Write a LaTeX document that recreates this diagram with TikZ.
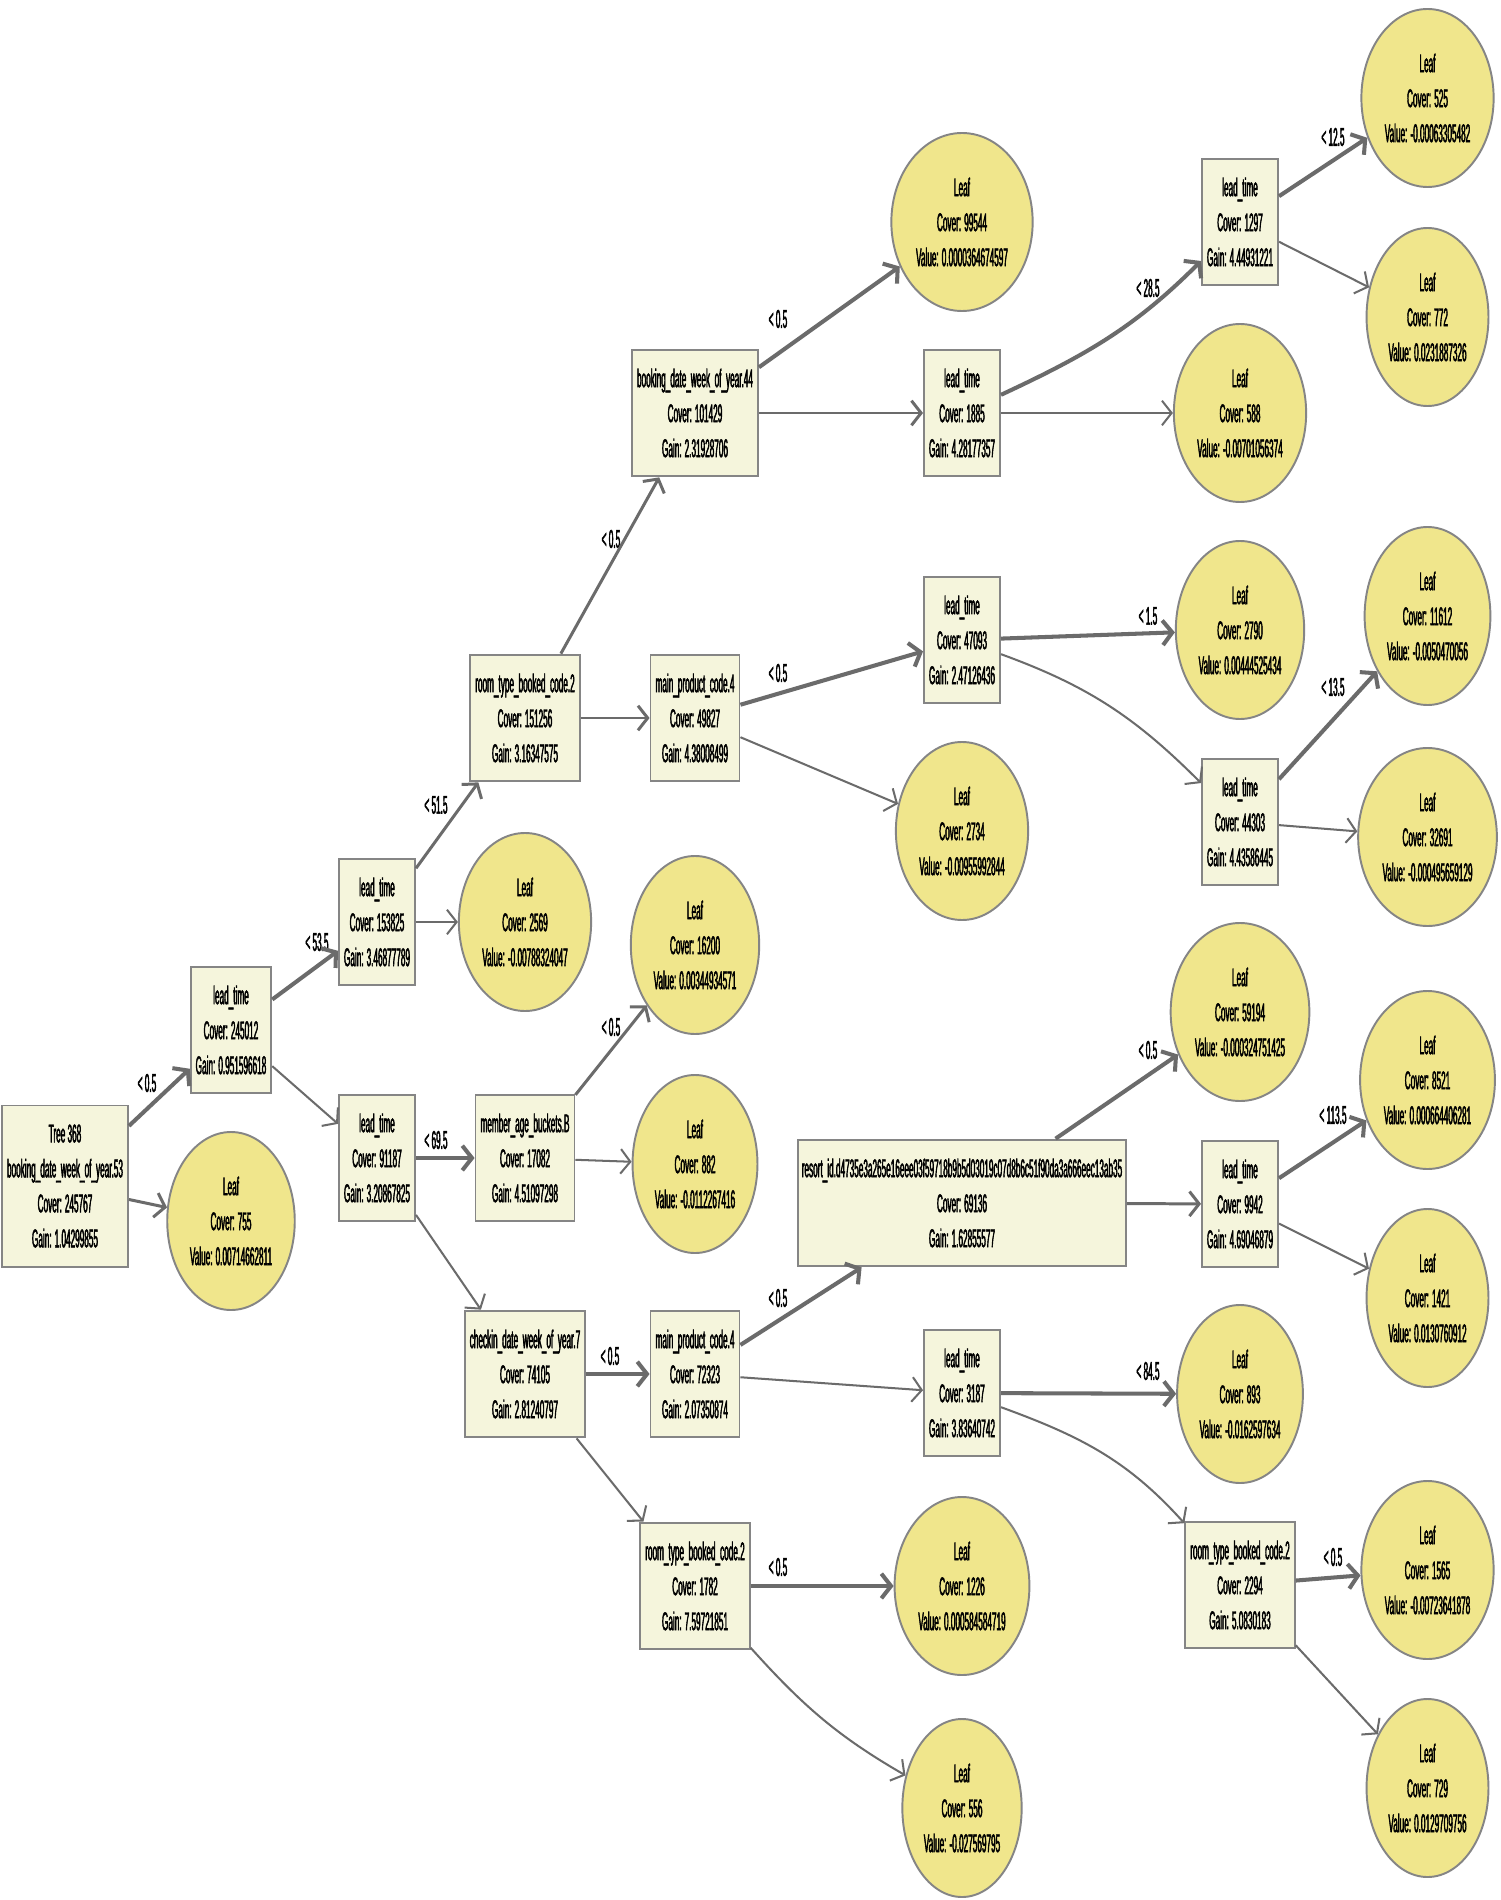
\documentclass[tikz,border=0pt]{standalone}
\usepackage{fontspec}
\setmainfont{Liberation Sans}[FakeStretch=0.32, FakeBold=1.6]
\usepackage{tikz}
\usetikzlibrary{arrows.meta,shapes.geometric}

\newcommand{\treefont}{\fontsize{14.6pt}{19.9pt}\selectfont}
\definecolor{splitfill}{HTML}{F5F5DC}
\definecolor{leaffill}{HTML}{F0E68C}
\definecolor{edgegray}{HTML}{6B6B6B}
\definecolor{bordergray}{HTML}{858585}

\begin{document}
\begin{tikzpicture}[every node/.style={font=\treefont, align=center},
		splitbox/.style={rectangle, fill=splitfill, draw=bordergray, line width=1.1pt, inner xsep=0.1cm, inner ysep=0.38cm},
		leafnode/.style={ellipse, fill=leaffill, draw=bordergray, line width=1.1pt, inner sep=0.08cm, minimum height=3.56cm},
		yesline/.style={draw=edgegray, line width=2.3pt, -{Straight Barb[length=5.5pt, width=14pt]}},
		midline/.style={draw=edgegray, line width=1.7pt, -{Straight Barb[length=5.5pt, width=14pt]}},
		noline/.style={draw=edgegray, line width=1.15pt, -{Straight Barb[length=5.5pt, width=14pt]}},
		cond/.style={inner sep=0pt}]
		\fill[white] (0, 0) rectangle (30, -38);
		\useasboundingbox (0, 0) rectangle (30, -38);
		
		\node[splitbox] (a) at (1.3, -23.72) {Tree 368\\booking\_date\_week\_of\_year.53\\Cover: 245767\\Gain: 1.04299855};
		
		\node[leafnode] (b) at (4.62, -24.42) {Leaf\\Cover: 755\\Value: 0.00714662811};
		\node[splitbox] (c) at (4.62, -20.6) {lead\_time\\Cover: 245012\\Gain: 0.951596618};
		
		\node[splitbox] (d) at (7.54, -18.44) {lead\_time\\Cover: 153825\\Gain: 3.46877789};
		\node[splitbox] (e) at (7.54, -23.16) {lead\_time\\Cover: 91187\\Gain: 3.20867825};
		
		\node[splitbox] (f) at (10.5, -14.36) {room\_type\_booked\_code.2\\Cover: 151256\\Gain: 3.16347575};
		\node[leafnode] (g) at (10.5, -18.44) {Leaf\\Cover: 2569\\Value: -0.00788324047};
		\node[splitbox] (h) at (10.5, -23.16) {member\_age\_buckets.B\\Cover: 17082\\Gain: 4.51097298};
		\node[splitbox] (i) at (10.5, -27.48) {checkin\_date\_week\_of\_year.7\\Cover: 74105\\Gain: 2.81240797};
		
		\node[splitbox] (j) at (13.9, -8.26) {booking\_date\_week\_of\_year.44\\Cover: 101429\\Gain: 2.31928706};
		\node[splitbox] (k) at (13.9, -14.36) {main\_product\_code.4\\Cover: 49827\\Gain: 4.38008499};
		\node[leafnode] (l) at (13.9, -18.9) {Leaf\\Cover: 16200\\Value: 0.00344934571};
		\node[leafnode] (m) at (13.9, -23.28) {Leaf\\Cover: 882\\Value: -0.0112267416};
		\node[splitbox] (n) at (13.9, -27.48) {main\_product\_code.4\\Cover: 72323\\Gain: 2.07350874};
		\node[splitbox] (o) at (13.9, -31.72) {room\_type\_booked\_code.2\\Cover: 1782\\Gain: 7.59721851};
		
		\node[leafnode] (p) at (19.24, -4.44) {Leaf\\Cover: 99544\\Value: 0.0000364674597};
		\node[splitbox] (q) at (19.24, -8.26) {lead\_time\\Cover: 1885\\Gain: 4.28177357};
		\node[splitbox] (r) at (19.24, -12.8) {lead\_time\\Cover: 47093\\Gain: 2.47126436};
		\node[leafnode] (s) at (19.24, -16.62) {Leaf\\Cover: 2734\\Value: -0.00955992844};
		\node[splitbox, inner xsep=0pt, minimum width=6.56cm] (t) at (19.24, -24.06) {resort\_id.d4735e3a265e16eee03f59718b9b5d03019c07d8b6c51f90da3a666eec13ab35\\Cover: 69136\\Gain: 1.62855577};
		\node[splitbox] (u) at (19.24, -27.86) {lead\_time\\Cover: 3187\\Gain: 3.83640742};
		\node[leafnode] (v) at (19.24, -31.72) {Leaf\\Cover: 1226\\Value: 0.000584584719};
		\node[leafnode] (w) at (19.24, -36.16) {Leaf\\Cover: 556\\Value: -0.027569795};
		
		\node[splitbox] (x) at (24.8, -4.44) {lead\_time\\Cover: 1297\\Gain: 4.44931221};
		\node[leafnode] (y) at (24.8, -8.26) {Leaf\\Cover: 588\\Value: -0.00701056374};
		\node[leafnode] (z) at (24.8, -12.6) {Leaf\\Cover: 2790\\Value: 0.00444525434};
		\node[splitbox] (aa) at (24.8, -16.44) {lead\_time\\Cover: 44303\\Gain: 4.43586445};
		\node[leafnode] (ab) at (24.8, -20.24) {Leaf\\Cover: 59194\\Value: -0.000324751425};
		\node[splitbox] (ac) at (24.8, -24.08) {lead\_time\\Cover: 9942\\Gain: 4.69046879};
		\node[leafnode] (ad) at (24.8, -27.88) {Leaf\\Cover: 893\\Value: -0.0162597634};
		\node[splitbox] (ae) at (24.8, -31.7) {room\_type\_booked\_code.2\\Cover: 2294\\Gain: 5.0830183};
		
		\node[leafnode] (af) at (28.55, -1.96) {Leaf\\Cover: 525\\Value: -0.00063305482};
		\node[leafnode] (ag) at (28.55, -6.34) {Leaf\\Cover: 772\\Value: 0.0231887326};
		\node[leafnode] (ah) at (28.55, -12.32) {Leaf\\Cover: 11612\\Value: -0.0050470056};
		\node[leafnode] (ai) at (28.55, -16.74) {Leaf\\Cover: 32691\\Value: -0.000495659129};
		\node[leafnode] (aj) at (28.55, -21.6) {Leaf\\Cover: 8521\\Value: 0.000664406281};
		\node[leafnode] (ak) at (28.55, -25.96) {Leaf\\Cover: 1421\\Value: 0.0130760912};
		\node[leafnode] (al) at (28.55, -31.4) {Leaf\\Cover: 1565\\Value: -0.00723641878};
		\node[leafnode] (am) at (28.55, -35.76) {Leaf\\Cover: 729\\Value: 0.0129709756};
		
		\node[cond] (l1) at (2.94, -21.66) {< 0.5};
		\node[cond] (l2) at (6.34, -18.84) {< 53.5};
		\node[cond] (l3) at (8.72, -16.1) {< 51.5};
		\node[cond] (l4) at (12.22, -10.78) {< 0.5};
		\node[cond] (l5) at (15.56, -6.38) {< 0.5};
		\node[cond] (l6) at (22.96, -5.76) {< 28.5};
		\node[cond] (l7) at (26.66, -2.74) {< 12.5};
		\node[cond] (l8) at (15.56, -13.46) {< 0.5};
		\node[cond] (l9) at (22.96, -12.32) {< 1.5};
		\node[cond] (l10) at (26.66, -13.74) {< 13.5};
		\node[cond] (l11) at (8.72, -22.8) {< 69.5};
		\node[cond] (l12) at (12.22, -20.54) {< 0.5};
		\node[cond] (l13) at (12.2, -27.12) {< 0.5};
		\node[cond] (l14) at (15.56, -25.96) {< 0.5};
		\node[cond] (l15) at (22.96, -21.0) {< 0.5};
		\node[cond] (l16) at (26.66, -22.3) {< 113.5};
		\node[cond] (l17) at (22.96, -27.42) {< 84.5};
		\node[cond] (l18) at (26.66, -31.14) {< 0.5};
		\node[cond] (l19) at (15.56, -31.34) {< 0.5};
		
		\draw[yesline] (a) -- (c);
		\draw[midline] (a) -- (b);
		
		\draw[yesline] (c) -- (d);
		\draw[noline] (c) -- (e);
		
		\draw[midline] (d) -- (f);
		\draw[noline] (d) -- (g);
		\draw[yesline] (e) -- (h);
		\draw[noline] (e) -- (i);
		
		\draw[midline] (f) -- (j);
		\draw[midline] (f) -- (k);
		\draw[midline] (h) -- (l);
		\draw[noline] (h) -- (m);
		\draw[yesline] (i) -- (n);
		\draw[noline] (i) -- (o);
		
		\draw[yesline] (j) -- (p);
		\draw[midline] (j) -- (q);
		\draw[yesline] (k) -- (r);
		\draw[noline] (k) -- (s);
		\draw[yesline] (n) -- (t);
		\draw[noline] (n) -- (u);
		\draw[yesline] (o) -- (v);
		\draw[noline] (o) to[out=-48, in=150] (w);
		
		\draw[yesline] (q) to[out=25, in=225] (x);
		\draw[noline] (q) -- (y);
		\draw[yesline] (r) -- (z);
		\draw[noline] (r) to[out=-20, in=135] (aa);
		\draw[yesline] (t) -- (ab);
		\draw[midline] (t) -- (ac);
		\draw[yesline] (u) -- (ad);
		\draw[noline] (u) to[out=-20, in=132] (ae);
		
		\draw[yesline] (x) -- (af);
		\draw[noline] (x) -- (ag);
		\draw[yesline] (aa) -- (ah);
		\draw[noline] (aa) -- (ai);
		\draw[yesline] (ac) -- (aj);
		\draw[noline] (ac) -- (ak);
		\draw[yesline] (ae) -- (al);
		\draw[noline] (ae) -- (am);
	\end{tikzpicture}
\end{document}
